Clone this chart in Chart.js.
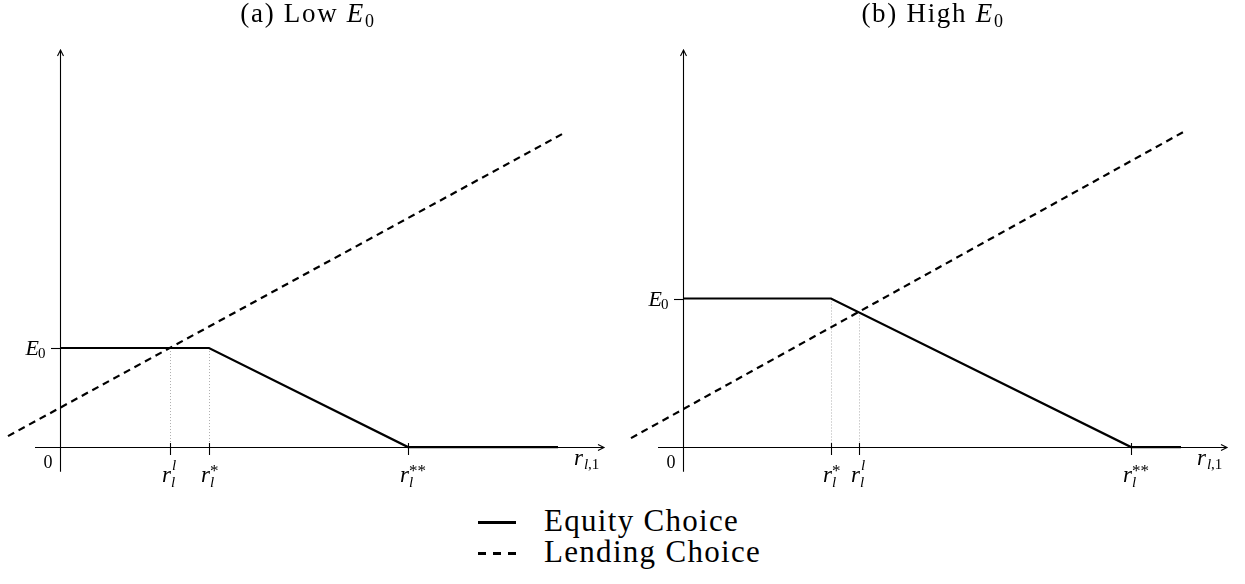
<!DOCTYPE html>
<html><head><meta charset="utf-8">
<script src="https://cdn.jsdelivr.net/npm/chart.js@4"></script>
<style>
html,body{margin:0;padding:0;background:#fff;width:1245px;height:584px;overflow:hidden;font-family:"Liberation Serif",serif;color:#000;}
canvas{position:absolute;top:0;}
#cLow{left:0;}
#cHigh{left:623px;}
.title{position:absolute;top:0;font-size:27px;line-height:26px;letter-spacing:1.7px;white-space:nowrap;transform:translateX(-50%);z-index:2;}
.title i{font-style:italic;}
.title sub{font-size:18px;vertical-align:-5px;line-height:0;}
.legend{position:absolute;left:478px;font-size:31px;line-height:31px;letter-spacing:1.3px;white-space:nowrap;}
.legend .sw{position:absolute;left:0;width:38px;top:16px;height:3px;background:#000;}
.legend .sw.dash{background:linear-gradient(to right,#000 0,#000 8px,transparent 8px,transparent 15px,#000 15px,#000 23px,transparent 23px,transparent 30px,#000 30px,#000 38px);}
.legend span.t{position:absolute;left:66px;top:0;}
</style></head>
<body>
<div class="title" style="left:308px">(a) Low <i>E</i><sub>0</sub></div>
<div class="title" style="left:933px">(b) High <i>E</i><sub>0</sub></div>
<canvas id="cLow" width="620" height="490"></canvas>
<canvas id="cHigh" width="622" height="490"></canvas>
<div class="legend" style="top:505px"><div class="sw"></div><span class="t">Equity Choice</span></div>
<div class="legend" style="top:536px"><div class="sw dash"></div><span class="t">Lending Choice</span></div>
<script>
// ---- data ----
const legendLabels = ['Equity Choice', 'Lending Choice'];
const equityLowX = [0, 1.49, 3.48, 4.98];
const equityLowY = [1, 1, 0, 0];
const lendingLowX = [-0.52, 5.02];
const lendingLowY = [0.11, 3.16];
const equityHighX = [0, 1.48, 4.48, 4.98];
const equityHighY = [1.5, 1.5, 0, 0];
const lendingHighX = [-0.52, 5.0];
const lendingHighY = [0.09, 3.18];
const ticksLowX = [1.1, 1.49, 3.48];
const ticksLowSup = ['l', '*', '**'];
const ticksHighX = [1.48, 1.76, 4.48];
const ticksHighSup = ['*', 'l', '**'];
const dottedLowX = [1.1, 1.49];
const dottedLowTop = [1, 1];
const dottedHighX = [1.48, 1.76];
const dottedHighTop = [1.5, 1.36];
const e0Low = 1;
const e0High = 1.5;

const pts = (xs, ys) => xs.map((x, i) => ({x, y: ys[i]}));

function makeAxesPlugin(cfg) {
  return {
    id: 'axesPlugin',
    beforeDatasetsDraw(chart) {
      const {ctx, scales: {x, y}} = chart;
      const x0 = x.getPixelForValue(0), y0 = y.getPixelForValue(0);
      ctx.save();
      // dotted guides
      ctx.strokeStyle = '#999';
      ctx.lineWidth = 0.8;
      ctx.setLineDash([1, 2]);
      cfg.dotX.forEach((v, i) => {
        const px = Math.round(x.getPixelForValue(v)) + 0.5;
        ctx.beginPath();
        ctx.moveTo(px, y.getPixelForValue(cfg.dotTop[i]));
        ctx.lineTo(px, y0);
        ctx.stroke();
      });
      ctx.setLineDash([]);
      // axes
      ctx.strokeStyle = '#000';
      ctx.lineWidth = 1.1;
      const xl = x.getPixelForValue(-0.25), xr = x.getPixelForValue(5.44);
      const yb = y.getPixelForValue(-0.25), yt = y.getPixelForValue(4.01);
      ctx.beginPath();
      ctx.moveTo(xl, y0 + 0.5); ctx.lineTo(xr, y0 + 0.5);
      ctx.moveTo(xr - 6, y0 + 0.5 - 3); ctx.lineTo(xr, y0 + 0.5); ctx.lineTo(xr - 6, y0 + 0.5 + 3);
      ctx.moveTo(x0 + 0.5, yb); ctx.lineTo(x0 + 0.5, yt);
      ctx.moveTo(x0 + 0.5 - 3, yt + 6); ctx.lineTo(x0 + 0.5, yt); ctx.lineTo(x0 + 0.5 + 3, yt + 6);
      ctx.stroke();
      // ticks
      cfg.ticks.forEach(v => {
        const px = Math.round(x.getPixelForValue(v)) + 0.5;
        ctx.beginPath(); ctx.moveTo(px, y0 - 4); ctx.lineTo(px, y0 + 8); ctx.stroke();
      });
      const ey = Math.round(y.getPixelForValue(cfg.e0)) + 0.5;
      ctx.beginPath(); ctx.moveTo(x0 - 9, ey); ctx.lineTo(x0 + 1, ey); ctx.stroke();
      ctx.restore();
    },
    afterDatasetsDraw(chart) {
      const {ctx, scales: {x, y}} = chart;
      const x0 = x.getPixelForValue(0), y0 = y.getPixelForValue(0);
      ctx.save();
      ctx.fillStyle = '#000';
      ctx.textBaseline = 'alphabetic';
      const big = 'italic 23px "Liberation Serif"', small = 'italic 15px "Liberation Serif"', smallR = '15px "Liberation Serif"';
      // x tick labels
      cfg.ticks.forEach((v, i) => {
        const px = x.getPixelForValue(v);
        ctx.font = big; ctx.textAlign = 'right';
        ctx.fillText('r', px + 1, y0 + 35);
        ctx.font = small; ctx.textAlign = 'left';
        ctx.fillText('l', px + 1, y0 + 40);
        if (cfg.sups[i] === 'l') {
          ctx.font = small; ctx.fillText('l', px + 2, y0 + 23);
        } else {
          ctx.font = '17px "Liberation Serif"'; ctx.fillText(cfg.sups[i], px + 1, y0 + 29);
        }
      });
      // E0
      const ey = y.getPixelForValue(cfg.e0);
      ctx.font = 'italic 22px "Liberation Serif"'; ctx.textAlign = 'right';
      ctx.fillText('E', x0 - 21, ey + 7);
      ctx.font = smallR; ctx.textAlign = 'left';
      ctx.fillText('0', x0 - 22, ey + 10);
      // origin 0
      ctx.font = '18px "Liberation Serif"'; ctx.textAlign = 'center';
      ctx.fillText('0', x0 - 12, y0 + 21);
      // axis label r_{l,1}
      const lx = x.getPixelForValue(5.14);
      ctx.font = big; ctx.textAlign = 'left';
      ctx.fillText('r', lx, y0 + 18);
      ctx.font = small; ctx.fillText('l', lx + 10, y0 + 22);
      ctx.font = smallR; ctx.fillText(',1', lx + 14, y0 + 22);
      ctx.restore();
    }
  };
}

function makeChart(id, eq, lend, xmax, cfg) {
  new Chart(document.getElementById(id), {
    type: 'line',
    data: {
      datasets: [
        {label: legendLabels[0], data: eq, borderColor: '#000', borderWidth: 2.2, pointRadius: 0, tension: 0, fill: false},
        {label: legendLabels[1], data: lend, borderColor: '#000', borderWidth: 2.2, borderDash: [7, 5], pointRadius: 0, tension: 0, fill: false}
      ]
    },
    options: {
      responsive: false,
      devicePixelRatio: 1,
      animation: false,
      layout: {padding: 0},
      plugins: {legend: {display: false}, tooltip: {enabled: false}, title: {display: false}},
      scales: {
        x: {type: 'linear', min: -0.6, max: xmax, display: false},
        y: {type: 'linear', min: -0.434, max: 4.515, display: false}
      }
    },
    plugins: [makeAxesPlugin(cfg)]
  });
}

makeChart('cLow', pts(equityLowX, equityLowY), pts(lendingLowX, lendingLowY), 5.6,
  {ticks: ticksLowX, sups: ticksLowSup, dotX: dottedLowX, dotTop: dottedLowTop, e0: e0Low});
makeChart('cHigh', pts(equityHighX, equityHighY), pts(lendingHighX, lendingHighY), 5.62,
  {ticks: ticksHighX, sups: ticksHighSup, dotX: dottedHighX, dotTop: dottedHighTop, e0: e0High});
</script>
</body></html>
